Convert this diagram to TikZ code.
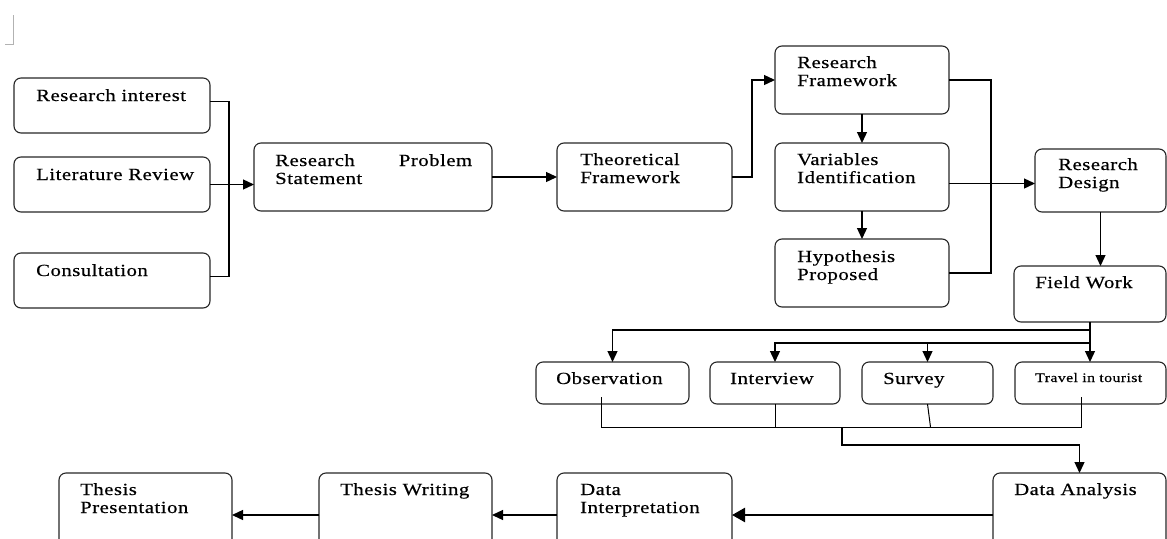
\documentclass[tikz,border=0pt]{standalone}
\usepackage{fontspec}
\setmainfont{Liberation Serif}[FakeStretch=1.22,LetterSpace=3,FakeBold=0.5]
\usetikzlibrary{arrows.meta}
\begin{document}
\begin{tikzpicture}[x=1pt,y=-1pt,
 box/.style 2 args={draw=black!85, line width=1.1pt, rounded corners=7pt, anchor=north west,
   inner sep=0pt, outer sep=0pt, minimum width=#1, minimum height=#2},
 lbl/.style={anchor=base west, inner sep=0pt, font=\fontsize{17}{18}\selectfont, text width=#1, align=left},
 lbl/.default=170pt,
 conn/.style={line width=1.3pt, draw=black},
 arr/.style={conn, -{Triangle[length=11pt,width=10pt]}},
 bigarr/.style={line width=2.4pt, draw=black, -{Triangle[length=13pt,width=14pt]}},
]
\useasboundingbox (0,0) rectangle (1167,538);
\clip (0,0) rectangle (1167,538);

% stray mark
\draw[gray!60, line width=0.8pt] (13,15) -- (13,44) -- (5,44);

% boxes
\node[box={196pt}{55pt}] (ri) at (14,78) {};
\node[box={196pt}{55pt}] (lr) at (14,157) {};
\node[box={196pt}{55pt}] (co) at (14,253) {};
\node[box={238pt}{68pt}] (rps) at (254,143) {};
\node[box={175pt}{68pt}] (tf) at (557,143) {};
\node[box={174pt}{68pt}] (rf) at (775,46) {};
\node[box={174pt}{68pt}] (vi) at (775,143) {};
\node[box={174pt}{68pt}] (hp) at (775,239) {};
\node[box={131pt}{63pt}] (rd) at (1035,149) {};
\node[box={152pt}{56pt}] (fw) at (1014,266) {};
\node[box={153pt}{42pt}] (ob) at (536,362) {};
\node[box={130pt}{42pt}] (iv) at (710,362) {};
\node[box={131pt}{42pt}] (sv) at (862,362) {};
\node[box={151pt}{42pt}] (tr) at (1015,362) {};
\node[box={173pt}{84pt}] (da) at (993,473) {};
\node[box={175pt}{84pt}] (di) at (557,473) {};
\node[box={173pt}{84pt}] (tw) at (319,473) {};
\node[box={173pt}{84pt}] (tp) at (59,473) {};

% labels
\node[lbl] (l-ri) at ([shift={(22pt,-23pt)}]ri.north west) {Research interest};
\node[lbl] (l-lr) at ([shift={(22pt,-23pt)}]lr.north west) {Literature Review};
\node[lbl] (l-co) at ([shift={(22pt,-23pt)}]co.north west) {Consultation};
\node[lbl=197pt] (l-rps) at ([shift={(21pt,-23pt)}]rps.north west) {Research\hfill Problem\\Statement};
\node[lbl] (l-tf) at ([shift={(23pt,-22pt)}]tf.north west) {Theoretical\\Framework};
\node[lbl] (l-rf) at ([shift={(22pt,-22pt)}]rf.north west) {Research\\Framework};
\node[lbl] (l-vi) at ([shift={(22pt,-22pt)}]vi.north west) {Variables\\Identification};
\node[lbl] (l-hp) at ([shift={(22pt,-23pt)}]hp.north west) {Hypothesis\\Proposed};
\node[lbl] (l-rd) at ([shift={(23pt,-21pt)}]rd.north west) {Research\\Design};
\node[lbl] (l-fw) at ([shift={(21pt,-22pt)}]fw.north west) {Field Work};
\node[lbl] (l-ob) at ([shift={(20pt,-22pt)}]ob.north west) {Observation};
\node[lbl] (l-iv) at ([shift={(20pt,-22pt)}]iv.north west) {Interview};
\node[lbl] (l-sv) at ([shift={(21pt,-22pt)}]sv.north west) {Survey};
\node[lbl, font=\fontsize{13}{15}\selectfont] (l-tr) at ([shift={(20pt,-20pt)}]tr.north west) {Travel in tourist};
\node[lbl] (l-da) at ([shift={(21pt,-22pt)}]da.north west) {Data Analysis};
\node[lbl] (l-di) at ([shift={(23pt,-22pt)}]di.north west) {Data\\Interpretation};
\node[lbl] (l-tw) at ([shift={(21pt,-22pt)}]tw.north west) {Thesis Writing};
\node[lbl] (l-tp) at ([shift={(21pt,-22pt)}]tp.north west) {Thesis\\Presentation};

% connectors
\coordinate (cj) at (229,184);
\draw[conn] ([yshift=4pt]ri.east) -| (cj);
\draw[conn] ([yshift=4pt]co.east) -| (cj);
\draw[arr] (lr.east) -- (lr.east -| rps.west);
\draw[arr] (rps.east) -- (tf.west);
\draw[arr] (tf.east) -- ++(20,0) |- (rf.west);
\draw[arr] (rf.south) -- (vi.north);
\draw[arr] (vi.south) -- (hp.north);
\draw[conn] (rf.east) -- ++(42,0) |- (hp.east);
\draw[arr] ([yshift=-3pt]rd.west -| vi.east) -- ([yshift=-3pt]rd.west);
\draw[arr] (rd.south) -- (rd.south |- fw.north);

\coordinate (b1) at (1090,330);
\coordinate (b2) at (1090,343);
\draw[arr] (fw.south) -- (fw.south |- tr.north);
\draw[arr] (b1) -| (ob.north);
\draw[arr] (b2) -| (iv.north);
\draw[arr] (sv.north |- b2) -- (sv.north);

\coordinate (jL) at (601,427);
\coordinate (jR) at (1081,427);
\coordinate (jm) at (842,427);
\draw[conn, line width=1pt] ([yshift=7pt]ob.south -| jL) -- (jL) -- (jR) -- ([yshift=7pt]tr.south -| jR);
\draw[conn, line width=1pt] (iv.south) -- (iv.south |- jL);
\draw[conn, line width=1pt] (sv.south) -- ([xshift=3pt]sv.south |- jL);
\draw[arr] (jm) -- ++(0,18) -| (da.north);

\draw[bigarr] (da.west) -- (di.east);
\draw[arr] (di.west) -- (tw.east);
\draw[arr] (tw.west) -- (tp.east);
\end{tikzpicture}
\end{document}
